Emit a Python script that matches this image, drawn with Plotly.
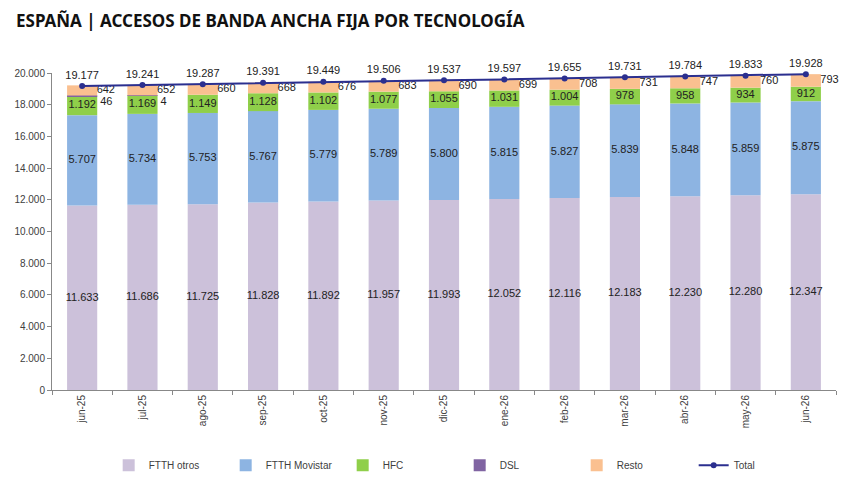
import plotly.graph_objects as go

meses = ['jun-25', 'jul-25', 'ago-25', 'sep-25', 'oct-25', 'nov-25', 'dic-25',
         'ene-26', 'feb-26', 'mar-26', 'abr-26', 'may-26', 'jun-26']
ftth_otros = [11633, 11686, 11725, 11828, 11892, 11957, 11993, 12052, 12116, 12183, 12230, 12280, 12347]
ftth_movistar = [5707, 5734, 5753, 5767, 5779, 5789, 5800, 5815, 5827, 5839, 5848, 5859, 5875]
hfc = [1192, 1169, 1149, 1128, 1102, 1077, 1055, 1031, 1004, 978, 958, 934, 912]
dsl = [46, 4, 0, 0, 0, 0, 0, 0, 0, 0, 0, 0, 0]
resto = [642, 652, 660, 668, 676, 683, 690, 699, 708, 731, 747, 760, 793]
total = [19177, 19241, 19287, 19391, 19449, 19506, 19537, 19597, 19655, 19731, 19784, 19833, 19928]

colores = {
    'FTTH otros': '#ccc1da',
    'FTTH Movistar': '#8db4e2',
    'HFC': '#8fcf4a',
    'DSL': '#8064a2',
    'Resto': '#fac090',
}
color_total = '#2b2f8f'
font_val = dict(family='Liberation Sans, Arial', size=11, color='#222222')

x = list(range(len(meses)))
series = [('FTTH otros', ftth_otros), ('FTTH Movistar', ftth_movistar),
          ('HFC', hfc), ('DSL', dsl), ('Resto', resto)]

def fmt(v):
    return f'{v:,}'.replace(',', '.')

fig = go.Figure()

base = [0] * len(meses)
mids = {}
for nombre, vals in series:
    fig.add_trace(go.Bar(name=nombre, x=x, y=vals, base=base, width=0.5,
                         marker=dict(color=colores[nombre], line=dict(width=0))))
    mids[nombre] = [b + v / 2 for b, v in zip(base, vals)]
    base = [b + v for b, v in zip(base, vals)]

# etiquetas dentro de las barras
for nombre in ['FTTH otros', 'FTTH Movistar', 'HFC']:
    vals = dict(series)[nombre]
    fig.add_trace(go.Scatter(x=x, y=mids[nombre], mode='text',
                             text=[fmt(v) for v in vals], textposition='middle center',
                             textfont=font_val, showlegend=False, hoverinfo='skip',
                             cliponaxis=False))

# etiquetas de resto y dsl a la derecha
fig.add_trace(go.Scatter(x=[i + 0.24 for i in x], y=mids['Resto'], mode='text',
                         text=[fmt(v) for v in resto], textposition='middle right',
                         textfont=font_val, showlegend=False, hoverinfo='skip',
                         cliponaxis=False))
fig.add_trace(go.Scatter(x=[i + 0.3 for i in x], y=[m - 420 for m in mids['DSL']], mode='text',
                         text=[fmt(v) if v > 0 else '' for v in dsl], textposition='middle right',
                         textfont=font_val, showlegend=False, hoverinfo='skip',
                         cliponaxis=False))

fig.add_trace(go.Scatter(name='Total', x=x, y=total, mode='lines+markers+text',
                         line=dict(color=color_total, width=2),
                         marker=dict(color=color_total, size=6),
                         text=[fmt(v) for v in total], textposition='top center',
                         textfont=font_val, cliponaxis=False))

fig.update_layout(
    width=855, height=490,
    barmode='overlay',
    plot_bgcolor='white', paper_bgcolor='white',
    margin=dict(l=44, r=27, t=65, b=108),
    font=dict(family='Liberation Sans, Arial', size=10, color='#404040'),
    title=dict(text='<b>ESPAÑA | ACCESOS DE BANDA ANCHA FIJA POR TECNOLOGÍA</b>',
               x=8 / 855, xanchor='left', xref='container',
               y=1 - 13 / 490, yanchor='middle', yref='container',
               font=dict(family='Noto Sans', size=17, color='#111111')),
    legend=dict(orientation='h', x=0.52, xanchor='center', y=-0.237, yanchor='middle',
                entrywidth=72, itemwidth=30,
                font=dict(family='Liberation Sans Narrow, Liberation Sans', size=10, color='#404040')),
    showlegend=True,
)
fig.update_xaxes(range=[-0.5, 12.5], tickvals=x, ticktext=meses, tickangle=-90,
                 ticks='', showgrid=False, zeroline=False, automargin=False,
                 showline=True, linecolor='#888888', linewidth=1,
                 minor=dict(tickvals=[i - 0.5 for i in range(len(meses) + 1)],
                            ticks='outside', ticklen=4, tickcolor='#888888', showgrid=False))
fig.update_yaxes(range=[0, 20000], tickvals=list(range(0, 20001, 2000)),
                 ticktext=[fmt(v) for v in range(0, 20001, 2000)],
                 ticks='outside', ticklen=4, tickcolor='#888888', automargin=False,
                 showgrid=False, zeroline=False,
                 showline=True, linecolor='#888888', linewidth=1)

fig.write_html('out.html')
